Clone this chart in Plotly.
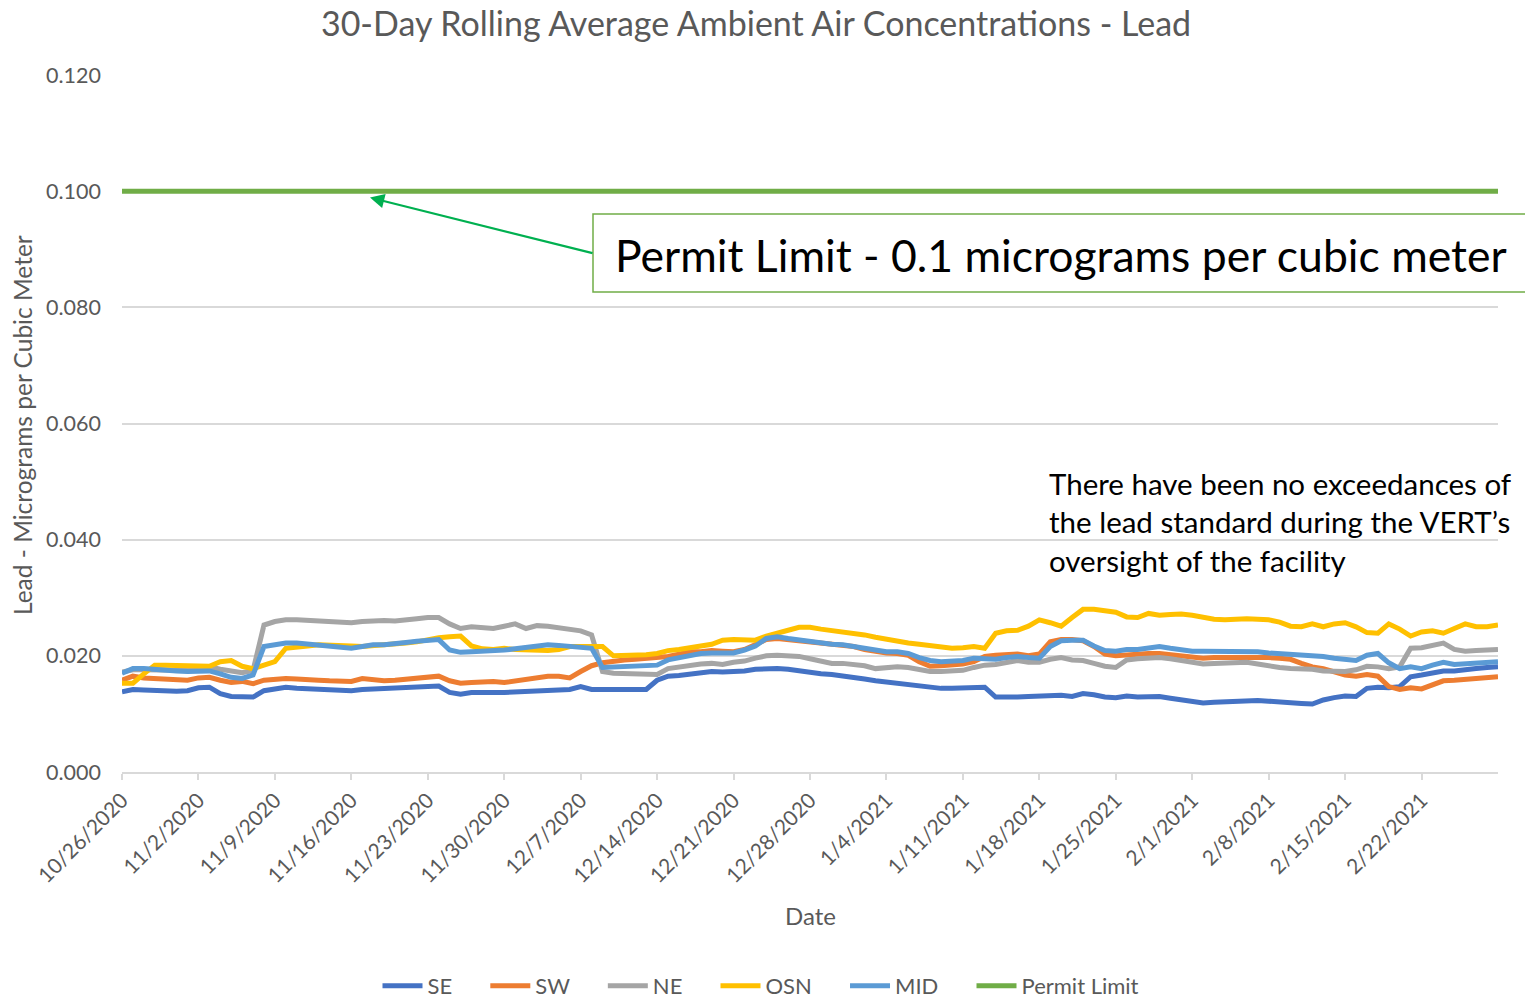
import pandas as pd
import plotly.graph_objects as go

start_date = "2020-10-26"

se = [0.0138, 0.0142, 0.0141, 0.0140, 0.0139, 0.0139, 0.0140, 0.0145, 0.0146, 0.0135,
      0.0130, 0.0129, 0.0129, 0.0140, 0.0144, 0.0146, 0.0144, 0.0143, 0.0142, 0.0141,
      0.0140, 0.0140, 0.0142, 0.0143, 0.0142, 0.0143, 0.0145, 0.0146,
      0.0147, 0.0148, 0.0137, 0.0134, 0.0137, 0.0138, 0.0137, 0.0137, 0.0138, 0.0140,
      0.0141, 0.0141, 0.0141, 0.0142, 0.0147, 0.0142, 0.0142, 0.0142, 0.0142, 0.0142,
      0.0142, 0.0158, 0.0165, 0.0166, 0.0168,
      0.0172, 0.0173, 0.0172, 0.0172, 0.0174, 0.0177, 0.0178, 0.0178, 0.0177, 0.0174,
      0.0172, 0.0169, 0.0168, 0.0166, 0.0163, 0.0160, 0.0157, 0.0155, 0.0153, 0.0151,
      0.0147, 0.0145, 0.0144, 0.0144, 0.0144, 0.0145,
      0.0146, 0.0129, 0.0128, 0.0129, 0.0130, 0.0131, 0.0131, 0.0132, 0.0130, 0.0135,
      0.0133, 0.0129, 0.0128, 0.0131, 0.0129, 0.0129, 0.0130, 0.0127, 0.0124, 0.0121,
      0.0119, 0.0120, 0.0121,
      0.0121, 0.0122, 0.0123, 0.0122, 0.0120, 0.0119, 0.0118, 0.0117, 0.0124, 0.0128,
      0.0131, 0.0130, 0.0144, 0.0146, 0.0145, 0.0147, 0.0164, 0.0167, 0.0171, 0.0174,
      0.0174, 0.0177, 0.0178, 0.0180, 0.0181]

sw = [0.0158, 0.0165, 0.0162, 0.0161, 0.0161, 0.0160, 0.0158, 0.0162, 0.0163, 0.0158,
      0.0154, 0.0156, 0.0152, 0.0158, 0.0160, 0.0161, 0.0160, 0.0158, 0.0158, 0.0157,
      0.0156, 0.0156, 0.0161, 0.0158, 0.0157, 0.0158, 0.0160, 0.0161,
      0.0163, 0.0165, 0.0157, 0.0153, 0.0154, 0.0156, 0.0156, 0.0154, 0.0157, 0.0160,
      0.0164, 0.0165, 0.0165, 0.0162, 0.0173, 0.0183, 0.0188, 0.0191, 0.0193, 0.0194,
      0.0195, 0.0197, 0.0199, 0.0203, 0.0207,
      0.0207, 0.0209, 0.0208, 0.0207, 0.0211, 0.0219, 0.0228, 0.0230, 0.0228, 0.0226,
      0.0224, 0.0222, 0.0222, 0.0220, 0.0216, 0.0211, 0.0207, 0.0205, 0.0204, 0.0201,
      0.0190, 0.0182, 0.0183, 0.0184, 0.0186, 0.0190,
      0.0199, 0.0201, 0.0203, 0.0203, 0.0200, 0.0203, 0.0224, 0.0228, 0.0228, 0.0226,
      0.0216, 0.0203, 0.0200, 0.0202, 0.0203, 0.0204, 0.0204, 0.0202, 0.0199, 0.0196,
      0.0196, 0.0197, 0.0197,
      0.0198, 0.0199, 0.0198, 0.0197, 0.0196, 0.0194, 0.0187, 0.0181, 0.0178, 0.0173,
      0.0167, 0.0165, 0.0168, 0.0165, 0.0147, 0.0142, 0.0145, 0.0143, 0.0150, 0.0157,
      0.0158, 0.0160, 0.0162, 0.0163, 0.0164]

ne = [0.0172, 0.0176, 0.0176, 0.0175, 0.0174, 0.0175, 0.0176, 0.0178, 0.0181, 0.0177,
      0.0173, 0.0171, 0.0175, 0.0253, 0.0259, 0.0262, 0.0262, 0.0261, 0.0259, 0.0258,
      0.0257, 0.0257, 0.0259, 0.0261, 0.0261, 0.0260, 0.0263, 0.0264,
      0.0266, 0.0266, 0.0255, 0.0247, 0.0250, 0.0248, 0.0247, 0.0251, 0.0255, 0.0247,
      0.0252, 0.0251, 0.0249, 0.0247, 0.0243, 0.0236, 0.0173, 0.0170, 0.0169, 0.0168,
      0.0167, 0.0168, 0.0178, 0.0181, 0.0184,
      0.0186, 0.0187, 0.0185, 0.0189, 0.0191, 0.0196, 0.0200, 0.0201, 0.0201, 0.0199,
      0.0195, 0.0191, 0.0187, 0.0187, 0.0185, 0.0183, 0.0178, 0.0180, 0.0181, 0.0180,
      0.0177, 0.0173, 0.0173, 0.0174, 0.0175, 0.0180,
      0.0184, 0.0185, 0.0189, 0.0192, 0.0189, 0.0189, 0.0194, 0.0197, 0.0193, 0.0192,
      0.0187, 0.0182, 0.0180, 0.0193, 0.0195, 0.0196, 0.0197, 0.0195, 0.0192, 0.0188,
      0.0186, 0.0187, 0.0187,
      0.0187, 0.0189, 0.0186, 0.0182, 0.0180, 0.0178, 0.0178, 0.0177, 0.0174, 0.0173,
      0.0173, 0.0176, 0.0182, 0.0181, 0.0178, 0.0181, 0.0213, 0.0214, 0.0217, 0.0222,
      0.0211, 0.0208, 0.0209, 0.0210, 0.0211]

osn = [0.0153, 0.0153, 0.0169, 0.0184, 0.0184, 0.0183, 0.0182, 0.0181, 0.0182, 0.0190,
       0.0192, 0.0182, 0.0178, 0.0184, 0.0190, 0.0213, 0.0216, 0.0217, 0.0219, 0.0219,
       0.0217, 0.0217, 0.0216, 0.0217, 0.0219, 0.0220, 0.0222, 0.0224,
       0.0228, 0.0231, 0.0233, 0.0234, 0.0217, 0.0212, 0.0211, 0.0213, 0.0211, 0.0210,
       0.0211, 0.0209, 0.0211, 0.0216, 0.0216, 0.0216, 0.0216, 0.0200, 0.0200, 0.0201,
       0.0202, 0.0204, 0.0209, 0.0211, 0.0215,
       0.0217, 0.0220, 0.0227, 0.0228, 0.0227, 0.0227, 0.0234, 0.0240, 0.0244, 0.0249,
       0.0249, 0.0246, 0.0244, 0.0240, 0.0238, 0.0236, 0.0232, 0.0228, 0.0224, 0.0222,
       0.0220, 0.0217, 0.0216, 0.0213, 0.0214, 0.0216,
       0.0213, 0.0239, 0.0243, 0.0244, 0.0251, 0.0262, 0.0257, 0.0251, 0.0266, 0.0280,
       0.0280, 0.0278, 0.0275, 0.0267, 0.0266, 0.0273, 0.0270, 0.0271, 0.0272, 0.0270,
       0.0266, 0.0263, 0.0262,
       0.0264, 0.0264, 0.0263, 0.0262, 0.0258, 0.0251, 0.0250, 0.0255, 0.0250, 0.0255,
       0.0257, 0.0250, 0.0240, 0.0239, 0.0255, 0.0246, 0.0234, 0.0241, 0.0243, 0.0239,
       0.0247, 0.0255, 0.0250, 0.0250, 0.0253]

mid = [0.0170, 0.0178, 0.0178, 0.0176, 0.0174, 0.0174, 0.0173, 0.0174, 0.0174, 0.0169,
       0.0163, 0.0161, 0.0167, 0.0216, 0.0220, 0.0222, 0.0222, 0.0220, 0.0218, 0.0217,
       0.0215, 0.0213, 0.0216, 0.0219, 0.0219, 0.0220, 0.0223, 0.0225,
       0.0227, 0.0228, 0.0210, 0.0206, 0.0207, 0.0208, 0.0207, 0.0210, 0.0212, 0.0214,
       0.0217, 0.0219, 0.0218, 0.0216, 0.0213, 0.0213, 0.0180, 0.0181, 0.0181, 0.0182,
       0.0184, 0.0184, 0.0193, 0.0197, 0.0200,
       0.0204, 0.0205, 0.0204, 0.0205, 0.0210, 0.0217, 0.0230, 0.0233, 0.0230, 0.0227,
       0.0225, 0.0222, 0.0220, 0.0219, 0.0216, 0.0212, 0.0209, 0.0207, 0.0207, 0.0204,
       0.0197, 0.0192, 0.0190, 0.0190, 0.0192, 0.0196,
       0.0194, 0.0194, 0.0197, 0.0199, 0.0197, 0.0196, 0.0216, 0.0226, 0.0227, 0.0227,
       0.0217, 0.0209, 0.0208, 0.0211, 0.0211, 0.0213, 0.0216, 0.0213, 0.0210, 0.0208,
       0.0208, 0.0208, 0.0208,
       0.0208, 0.0207, 0.0207, 0.0205, 0.0204, 0.0203, 0.0201, 0.0201, 0.0199, 0.0196,
       0.0194, 0.0192, 0.0201, 0.0204, 0.0188, 0.0178, 0.0181, 0.0178, 0.0184, 0.0189,
       0.0185, 0.0186, 0.0187, 0.0188, 0.0190]

permit_value = 0.100

series_names = ["SE", "SW", "NE", "OSN", "MID"]
series_values = [se, sw, ne, osn, mid]
series_colors = ["#4472C4", "#ED7D31", "#A5A5A5", "#FFC000", "#5B9BD5"]
permit_name = "Permit Limit"
permit_color = "#70AD47"

tick_dates = pd.date_range("2020-10-26", "2021-02-22", freq="7D")
end_date = pd.Timestamp("2021-03-01")

FONT = "Lato"
GREY = "#595959"
PAD = "\u00a0" * 5  # extra legend spacing, like the reference

fig = go.Figure()
for name, vals, col in zip(series_names, series_values, series_colors):
    x = pd.date_range(start_date, periods=len(vals), freq="D")
    fig.add_trace(go.Scatter(x=x, y=vals, mode="lines", name=name + PAD,
                             line=dict(color=col, width=5)))

all_days = pd.date_range(start_date, end_date, freq="D")
permit = [permit_value] * len(all_days)
fig.add_trace(go.Scatter(x=all_days, y=permit, mode="lines", name=permit_name,
                         line=dict(color=permit_color, width=5)))

# page has an 8px body margin: work in reference pixels and shift
OFF = 8
W, H = 1533 - OFF, 999 - OFF
L = 122 - OFF
T = 75 - OFF
R = W - (1498 - OFF)
B = H - (772 - OFF)
pw, ph = W - L - R, H - T - B

def px(xr):
    return (xr - OFF - L) / pw

def py(yr):
    return (H - B - (yr - OFF)) / ph

fig.update_layout(
    width=W, height=H,
    margin=dict(l=L, r=R, t=T, b=B, autoexpand=False),
    paper_bgcolor="white", plot_bgcolor="white",
    font=dict(family=FONT, color=GREY),
    title=dict(text="30-Day Rolling Average Ambient Air Concentrations - Lead",
               x=(756 - OFF) / W, xref="container", xanchor="center",
               y=1 - (24 - OFF) / H, yref="container", yanchor="middle",
               font=dict(size=34, color=GREY, family=FONT)),
    showlegend=True,
    legend=dict(orientation="h", xref="container", yref="container",
                x=(761 - OFF) / W, xanchor="center",
                y=(999 - 986) / H, yanchor="middle",
                font=dict(size=22, color=GREY, family=FONT),
                itemwidth=40, tracegroupgap=0),
    xaxis=dict(
        type="date",
        range=[pd.Timestamp(start_date), end_date],
        tickvals=tick_dates,
        tickformat="%-m/%-d/%Y",
        tickangle=-45,
        tickfont=dict(size=21, color=GREY, family=FONT),
        showgrid=False, zeroline=False,
        showline=True, linecolor="#D9D9D9", linewidth=1.5,
        ticks="outside", ticklen=6, tickcolor="#D9D9D9", tickwidth=1.5,
    ),
    yaxis=dict(
        range=[0, 0.12], dtick=0.02, tick0=0, tickformat=".3f",
        tickfont=dict(size=21.5, color=GREY, family=FONT),
        showgrid=True, gridcolor="#D9D9D9", gridwidth=1.5,
        zeroline=False, showline=False, ticks="",
        ticklabelstandoff=20,
    ),
)

annotations = [
    dict(text="Lead - Micrograms per Cubic Meter", x=px(22), y=py(425),
         xref="paper", yref="paper", showarrow=False, textangle=-90,
         xanchor="center", yanchor="middle",
         font=dict(size=24.5, color=GREY, family=FONT)),
    dict(text="Date", x=px(810), y=py(915), xref="paper", yref="paper",
         showarrow=False, xanchor="center", yanchor="middle",
         font=dict(size=24, color=GREY, family=FONT)),
    dict(text="Permit Limit - 0.1 micrograms per cubic meter",
         x=px(613), y=py(254), xref="paper", yref="paper", showarrow=False,
         xanchor="left", yanchor="middle",
         font=dict(size=44.5, color="black", family=FONT)),
    dict(text="There have been no exceedances of<br>the lead standard during the VERT\u2019s<br>oversight of the facility",
         x=px(1047), y=py(464), xref="paper", yref="paper", showarrow=False,
         xanchor="left", yanchor="top", align="left",
         font=dict(size=29.5, color="black", family=FONT)),
    dict(text="", x=pd.Timestamp("2020-11-17 17:00"), y=0.0989, xref="x", yref="y",
         showarrow=True, ax=224, ay=56, arrowcolor="#00B050", arrowwidth=2.2,
         arrowhead=2, arrowsize=1.3, standoff=0),
]
fig.update_layout(annotations=annotations)

fig.add_shape(type="rect", xref="paper", yref="paper",
              x0=px(593), x1=px(1560), y0=py(292), y1=py(214),
              line=dict(color=permit_color, width=1.5), fillcolor="rgba(0,0,0,0)",
              layer="above")

fig.write_html("out.html")
